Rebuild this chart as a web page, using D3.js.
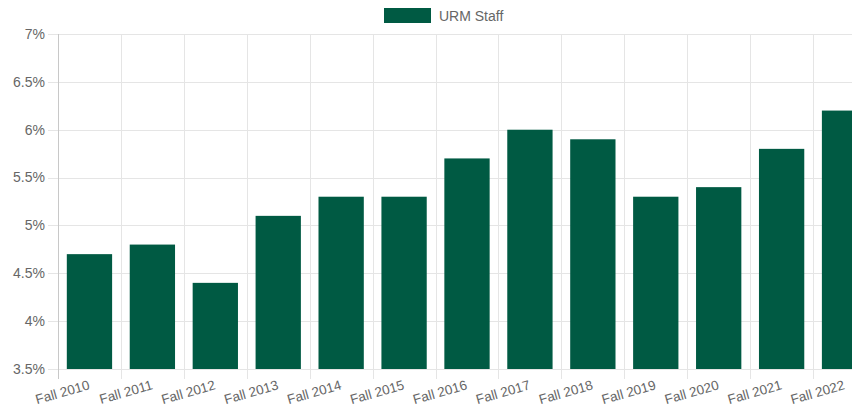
<!DOCTYPE html>
<html>
<head>
<meta charset="utf-8">
<script src="https://cdn.jsdelivr.net/npm/d3@7"></script>
<style>
  html, body { margin: 0; padding: 0; background: #fff; overflow: hidden; }
  #chart { width: 852px; height: 410px; overflow: hidden; }
  text { font-family: "Liberation Sans", Arial, sans-serif; }
</style>
</head>
<body>
<div id="chart"></div>
<script>
// datos
var years = ["Fall 2010", "Fall 2011", "Fall 2012", "Fall 2013", "Fall 2014", "Fall 2015", "Fall 2016",
             "Fall 2017", "Fall 2018", "Fall 2019", "Fall 2020", "Fall 2021", "Fall 2022"]
var urmStaff = [4.7, 4.8, 4.4, 5.1, 5.3, 5.3, 5.7, 6.0, 5.9, 5.3, 5.4, 5.8, 6.2]
var yTicks = [3.5, 4, 4.5, 5, 5.5, 6, 6.5, 7]
var seriesName = "URM Staff"

// lienzo (mas ancho que la ventana, la ultima barra queda cortada)
var width = 900
var height = 410
var margin = {left: 58, top: 34, right: 24, bottom: 41}

var svg = d3.select("#chart")
            .append("svg")
            .attr("width", width)
            .attr("height", height)

var green = "#005a43"
var gridColor = "#e5e5e5"
var textColor = "#666"

// escalas
var x = d3.scaleBand()
          .domain(years)
          .range([margin.left, width - margin.right])
          .paddingInner(0)
          .paddingOuter(0)

var y = d3.scaleLinear()
          .domain([3.5, 7])
          .range([height - margin.bottom, margin.top])

// rejilla horizontal + marcas del eje Y
svg.append("g")
   .selectAll("line")
   .data(yTicks)
   .enter()
   .append("line")
   .attr("x1", margin.left - 10)
   .attr("x2", width - margin.right)
   .attr("y1", d => Math.round(y(d)) + 0.5)
   .attr("y2", d => Math.round(y(d)) + 0.5)
   .attr("stroke", gridColor)

// rejilla vertical (en los bordes de cada categoria)
var xEdges = years.map(d => x(d)).concat([x(years[years.length - 1]) + x.step()])
svg.append("g")
   .selectAll("line")
   .data(xEdges)
   .enter()
   .append("line")
   .attr("x1", d => Math.round(d) + 0.5)
   .attr("x2", d => Math.round(d) + 0.5)
   .attr("y1", margin.top)
   .attr("y2", height - margin.bottom + 10)
   .attr("stroke", gridColor)

// barras
var barW = x.bandwidth() * 0.72
svg.append("g")
   .selectAll("rect")
   .data(urmStaff)
   .enter()
   .append("rect")
   .attr("x", (d, i) => x(years[i]) + (x.bandwidth() - barW) / 2)
   .attr("y", d => y(d))
   .attr("width", barW)
   .attr("height", d => y(3.5) - y(d))
   .attr("fill", green)

// linea del eje Y
svg.append("line")
   .attr("x1", margin.left + 0.5)
   .attr("x2", margin.left + 0.5)
   .attr("y1", margin.top)
   .attr("y2", height - margin.bottom + 10)
   .attr("stroke", "#c8c8c8")

// etiquetas eje Y
svg.append("g")
   .selectAll("text")
   .data(yTicks)
   .enter()
   .append("text")
   .attr("x", margin.left - 13)
   .attr("y", d => y(d))
   .attr("dy", "0.35em")
   .attr("text-anchor", "end")
   .attr("fill", textColor)
   .style("font-size", "14px")
   .text(d => d + "%")

// etiquetas eje X (rotadas)
svg.append("g")
   .selectAll("text")
   .data(years)
   .enter()
   .append("text")
   .attr("transform", d => "translate(" + (x(d) + x.bandwidth() / 2 + 1) + "," + (height - margin.bottom + 20) + ") rotate(-16)")
   .attr("text-anchor", "end")
   .attr("fill", textColor)
   .style("font-size", "13.5px")
   .text(d => d)

// leyenda
svg.append("rect")
   .attr("x", 384)
   .attr("y", 8)
   .attr("width", 47)
   .attr("height", 15)
   .attr("fill", green)

svg.append("text")
   .attr("x", 439)
   .attr("y", 16)
   .attr("dy", "0.35em")
   .attr("fill", textColor)
   .style("font-size", "14px")
   .text(seriesName)
</script>
</body>
</html>
